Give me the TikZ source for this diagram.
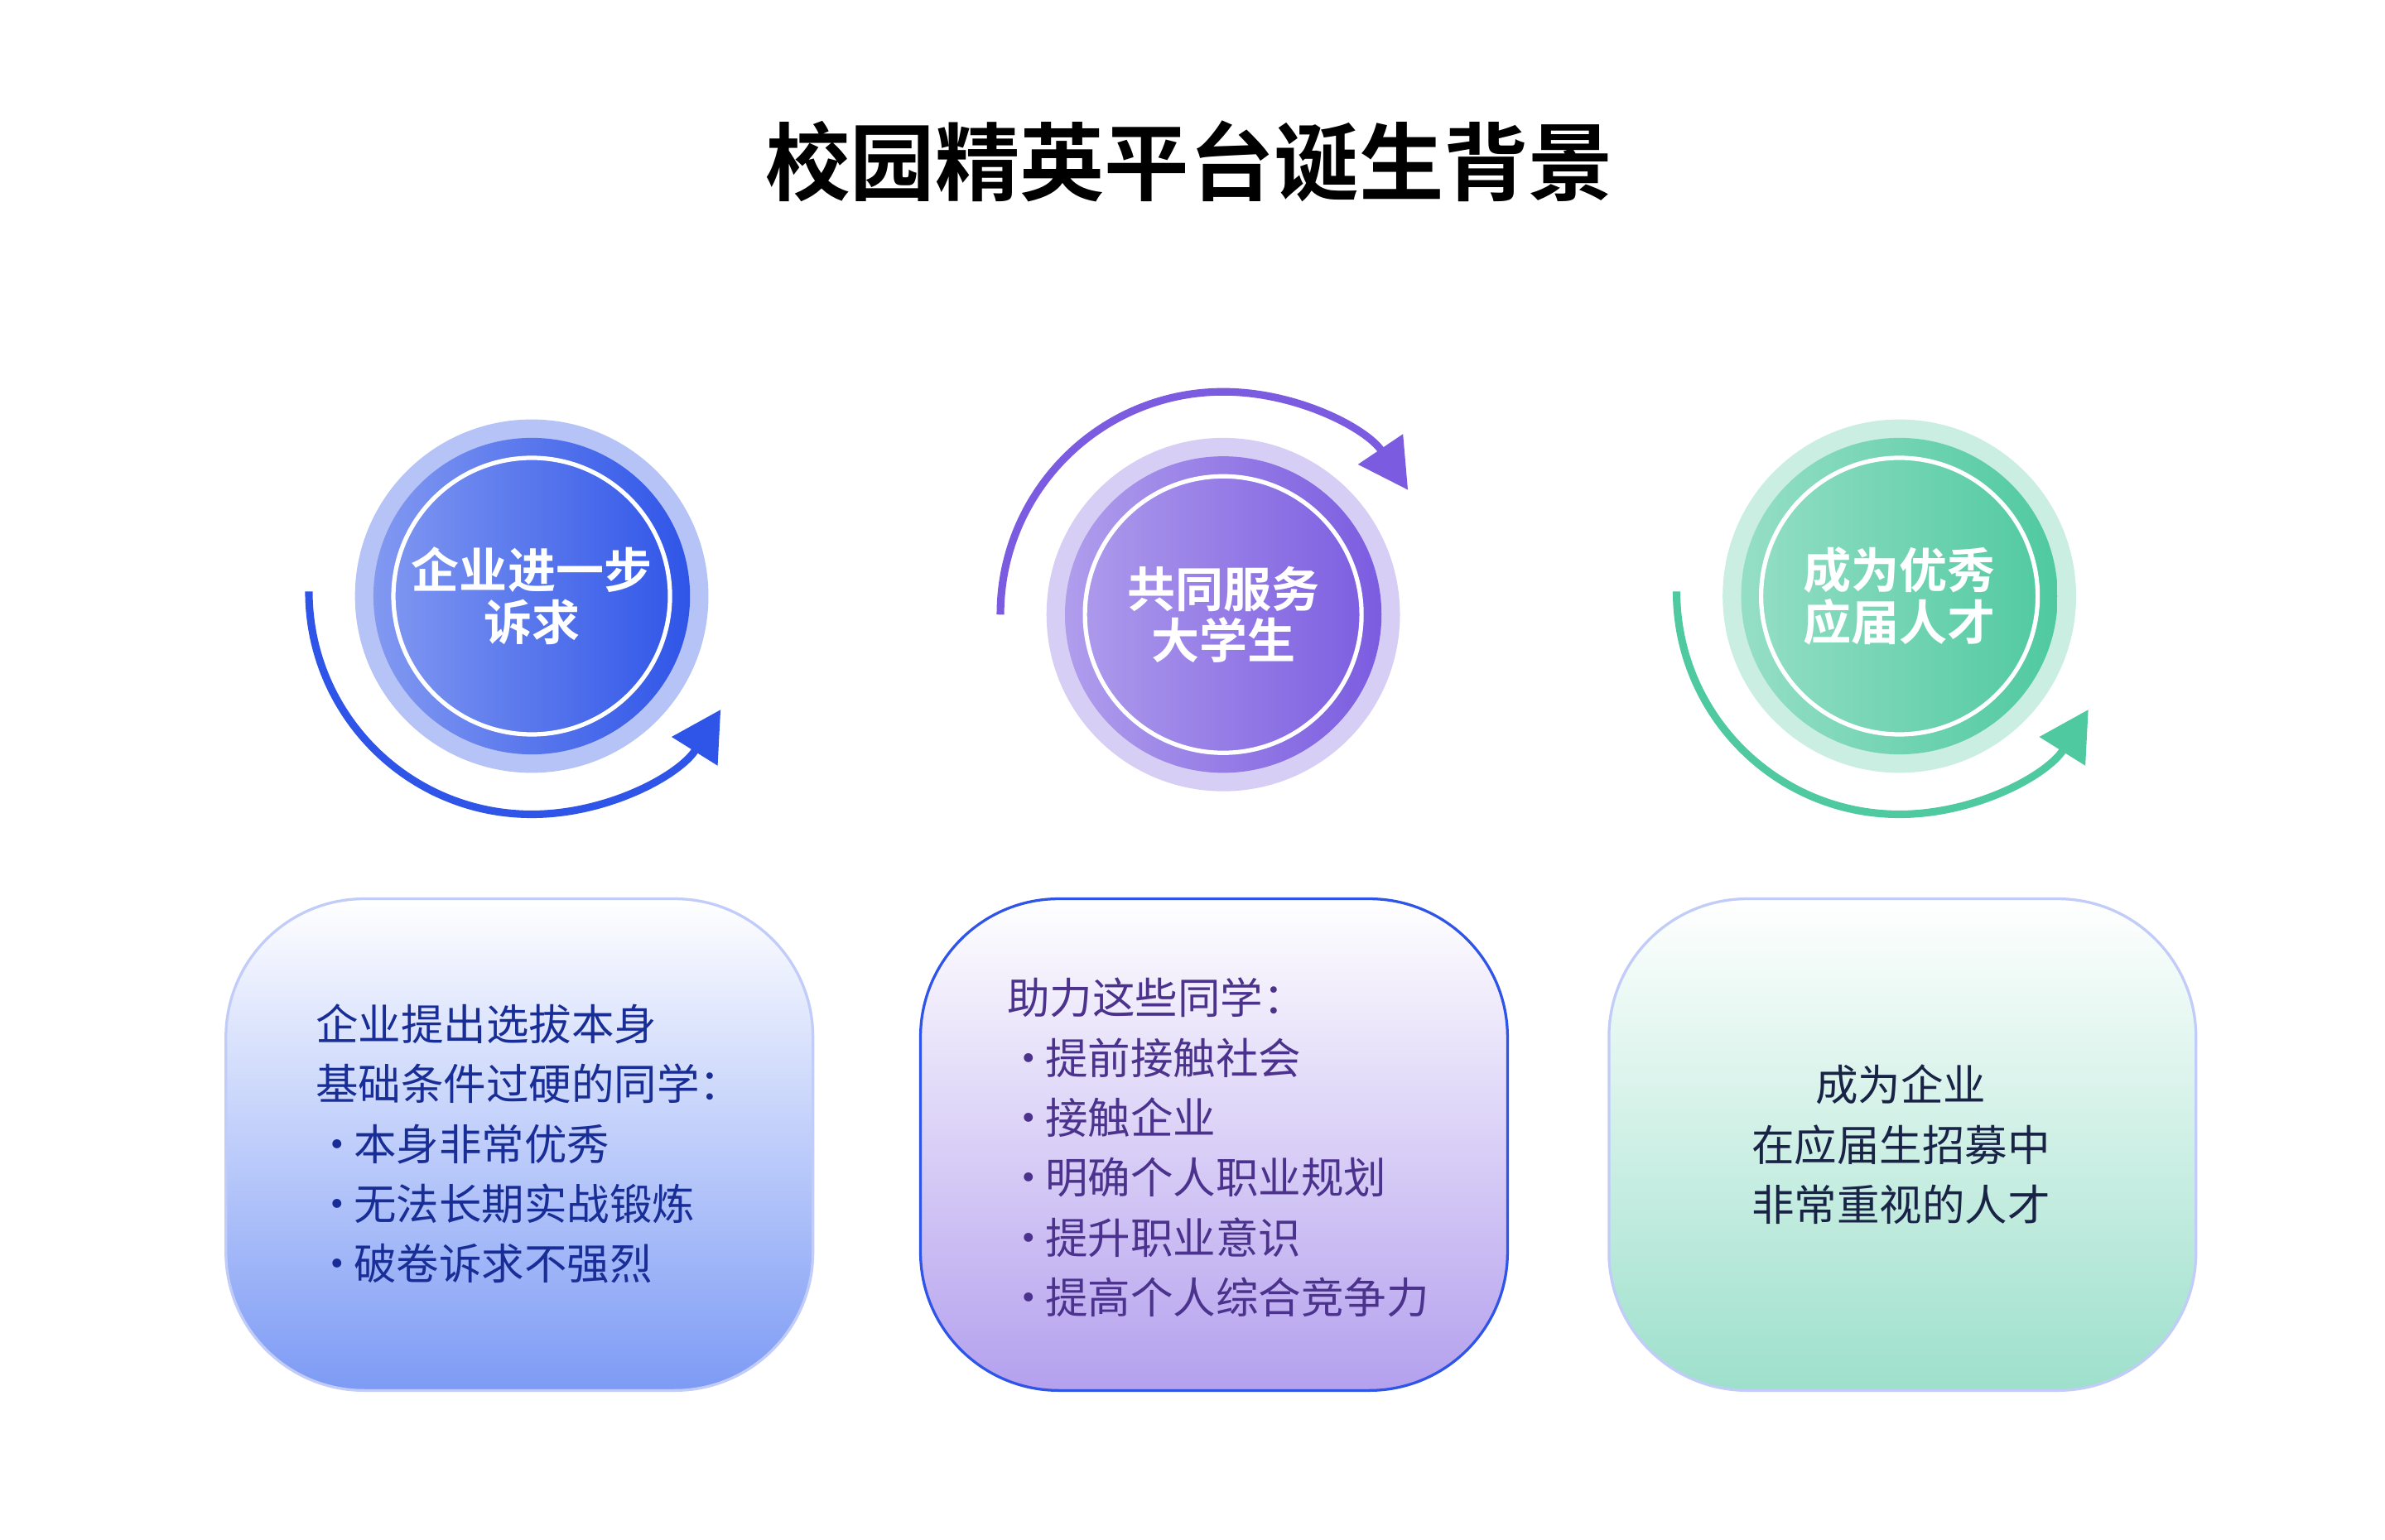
\documentclass[tikz,border=0pt]{standalone}
\usepackage{fontspec}
\setmainfont{Noto Sans CJK SC}[BoldFont={Noto Sans CJK SC Bold}]
\usetikzlibrary{arrows.meta}
\definecolor{cb}{HTML}{2F55E8}
\definecolor{cp}{HTML}{7B5CE0}
\definecolor{cg}{HTML}{4FC9A0}
\definecolor{fb}{HTML}{7D9BF5}
\definecolor{fp}{HTML}{B4A0EE}
\definecolor{fg}{HTML}{9DE0CB}
\definecolor{tb}{HTML}{192D96}
\definecolor{tp}{HTML}{4B328C}
\definecolor{tg}{HTML}{192346}
\tikzset{
  halo/.style={circle,minimum size=2.30cm,inner sep=0pt},
  core/.style={circle,minimum size=2.06cm,inner sep=0pt,shading angle=135},
  ring/.style={circle,draw=white,line width=0.8pt,minimum size=1.80cm,inner sep=0pt,font=\bfseries\fontsize{8.9pt}{9.6pt}\selectfont,text=white,align=center},
  arcline/.style={line width=1.4pt,-{Triangle[length=0.32cm,width=0.34cm]}},
  card/.style={rounded corners=0.9cm,minimum width=3.82cm,minimum height=3.2cm,line width=0.5pt},
  body/.style={font=\fontsize{7.9pt}{11.1pt}\selectfont}
}
\newcommand{\bul}{\hspace{0.0cm}·\hspace{-0.03cm}}
\begin{document}
\begin{tikzpicture}[yscale=-1]
\useasboundingbox[fill=white] (0,0) rectangle (15.52,10.02);
\node (title) at (7.74,1.05) {\bfseries\fontsize{15.7pt}{18pt}\selectfont 校园精英平台诞生背景};
% circle 1
\node[halo,fill=cb!35] (h1) at (3.46,3.88) {};
\node[core,left color=cb!60,right color=cb] (c1) at (h1) {};
\node[ring] (r1) at (h1) {企业进一步\\诉求};
\coordinate (a1s) at (2.01,3.85);
\draw[arcline,cb] (a1s) arc[start angle=180,end angle=32,radius=1.45];
% circle 2
\node[halo,fill=cp!30] (h2) at (7.96,4.00) {};
\node[core,left color=cp!60,right color=cp] (c2) at (h2) {};
\node[ring] (r2) at (h2) {共同服务\\大学生};
\coordinate (a2s) at (6.51,4.00);
\draw[arcline,cp] (a2s) arc[start angle=180,end angle=326,radius=1.45];
% circle 3
\node[halo,fill=cg!30] (h3) at (12.36,3.88) {};
\node[core,left color=cg!60,right color=cg] (c3) at (h3) {};
\node[ring] (r3) at (h3) {成为优秀\\应届人才};
\coordinate (a3s) at (10.91,3.85);
\draw[arcline,cg] (a3s) arc[start angle=180,end angle=32,radius=1.45];
% cards
\node[card,draw=cb!30,top color=white,bottom color=fb] (b1) at (3.38,7.45) {};
\node[card,draw=cb,top color=white,bottom color=fp] (b2) at (7.90,7.45) {};
\node[card,draw=cb!30,top color=white,bottom color=fg] (b3) at (12.38,7.45) {};
\node[body,text=tb,align=left,anchor=north west] (t1) at (1.93,6.41)
 {企业提出选拔本身\\基础条件过硬的同学：\\\bul 本身非常优秀\\\bul 无法长期实战锻炼\\\bul 破卷诉求不强烈};
\node[body,text=tp,align=left,anchor=north west] (t2) at (6.43,6.24)
 {助力这些同学：\\\bul 提前接触社会\\\bul 接触企业\\\bul 明确个人职业规划\\\bul 提升职业意识\\\bul 提高个人综合竞争力};
\node[body,text=tg,align=center] (t3) at (12.37,7.45)
 {成为企业\\在应届生招募中\\非常重视的人才};
\end{tikzpicture}
\end{document}
